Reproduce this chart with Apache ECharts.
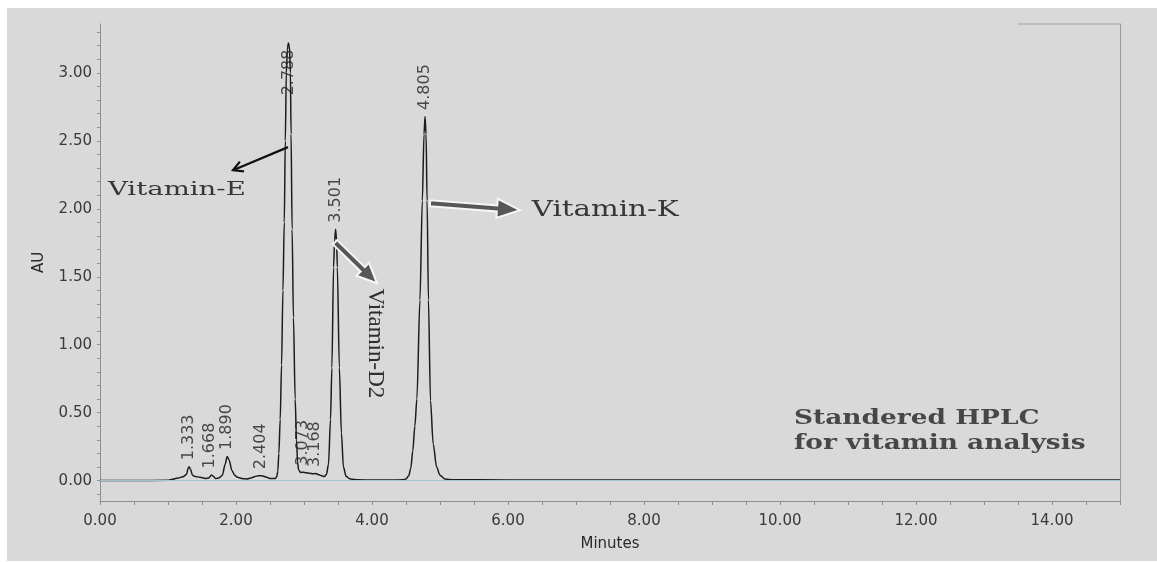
<!DOCTYPE html>
<html><head><meta charset="utf-8">
<script src="https://cdn.jsdelivr.net/npm/echarts@6/dist/echarts.min.js"></script>
<style>
html,body{margin:0;padding:0;background:#fff;}
#wrap{position:relative;width:1157px;height:562px;overflow:hidden;}
#bg{position:absolute;left:7px;top:8px;width:1150px;height:553px;background:#d9d9d9;}
#chart{position:absolute;left:0;top:0;width:1157px;height:562px;}
</style></head><body>
<div id="wrap"><div id="bg"></div><div id="chart"></div></div>
<script>
// ---- chromatogram trace (minutes, AU) ----
const traceTime = [0.00,0.50,1.00,1.05,1.15,1.22,1.27,1.30,1.31,1.33,1.36,1.40,1.47,1.55,1.60,1.64,1.67,1.70,1.75,1.80,1.84,1.87,1.90,1.94,1.98,2.02,2.10,2.16,2.22,2.28,2.33,2.38,2.43,2.50,2.58,
  2.60,2.615,2.63,2.65,2.67,2.69,2.71,2.725,2.74,2.755,2.77,2.785,2.80,2.81,2.825,2.845,2.87,2.89,2.905,2.92,2.95,2.99,3.03,3.08,3.13,3.17,3.21,3.26,3.30,
  3.33,3.36,3.39,3.41,3.435,3.45,3.465,3.48,3.49,3.52,3.55,3.58,3.62,3.68,3.80,4.00,4.30,4.45,4.50,4.54,4.57,4.60,4.63,4.66,4.705,4.74,4.765,4.78,4.795,4.81,4.83,4.86,4.90,4.95,5.00,5.07,5.20,6.00,8.00,10.00,12.00,15.00];
const traceAU = [0.000,0.000,0.002,0.008,0.020,0.028,0.045,0.095,0.102,0.085,0.040,0.030,0.025,0.016,0.020,0.042,0.030,0.015,0.020,0.040,0.120,0.178,0.150,0.075,0.040,0.024,0.014,0.012,0.020,0.030,0.036,0.036,0.028,0.015,0.016,
  0.030,0.070,0.200,0.450,0.850,1.400,1.900,2.500,3.000,3.170,3.220,3.200,3.000,2.550,1.850,1.200,0.600,0.300,0.140,0.080,0.060,0.062,0.058,0.055,0.050,0.052,0.045,0.035,0.030,
  0.045,0.120,0.450,0.830,1.570,1.770,1.850,1.760,1.570,0.830,0.350,0.100,0.030,0.012,0.006,0.004,0.004,0.006,0.012,0.035,0.090,0.220,0.400,0.600,1.330,2.060,2.550,2.680,2.550,2.060,1.330,0.590,0.270,0.100,0.040,0.012,0.006,0.005,0.005,0.005,0.005,0.005];

// ---- peak retention-time labels ----
const peakLabels = ['1.333','1.668','1.890','2.404','2.788','3.073','3.168','3.501','4.805'];
const peakTime   = [1.31, 1.61, 1.87, 2.36, 2.77, 2.99, 3.16, 3.465, 4.78];
const peakAU     = [0.102, 0.042, 0.178, 0.036, 3.22, 0.062, 0.052, 1.85, 2.68];

// ---- axis ticks / labels ----
const xTickLabels = [0,2,4,6,8,10,12,14];
const xTicks = [0,0.5,1,1.5,2,2.5,3,3.5,4,4.5,5,5.5,6,6.5,7,7.5,8,8.5,9,9.5,10,10.5,11,11.5,12,12.5,13,13.5,14,14.5,15];
const yTickLabels = [0,0.5,1,1.5,2,2.5,3];
const yTicks = [-0.1,0,0.1,0.2,0.3,0.4,0.5,0.6,0.7,0.8,0.9,1,1.1,1.2,1.3,1.4,1.5,1.6,1.7,1.8,1.9,2,2.1,2.2,2.3,2.4,2.5,2.6,2.7,2.8,2.9,3,3.1,3.2,3.3];

// ---- annotations ----
const annotationTexts = ['Vitamin-E','Vitamin-K','Vitamin-D2','Standered HPLC','for vitamin analysis'];

const chart = echarts.init(document.getElementById('chart'), null, {renderer:'canvas'});
const axisColor = '#8e8e96';
const labelColor = '#3a3a3a';

const traceData = traceTime.map((t,i)=>[t, traceAU[i]]);
const peakData = peakTime.map((t,i)=>{
  const d = {value:[t, peakAU[i]]};
  if (peakLabels[i] === '2.788') d.label = {position:'bottom', align:'right', distance:6};
  return d;
});

chart.setOption({
  animation:false,
  backgroundColor:'transparent',
  grid:{left:100, right:37, top:24, bottom:61},
  xAxis:{
    type:'value', min:0, max:15,
    axisLine:{show:true, onZero:false, lineStyle:{color:axisColor, width:1}},
    axisTick:{show:true, customValues:xTicks, length:4, lineStyle:{color:axisColor}},
    axisLabel:{customValues:xTickLabels, formatter:v=>v.toFixed(2), fontFamily:'DejaVu Sans', fontSize:15, color:labelColor, margin:13},
    splitLine:{show:false},
    name:'Minutes', nameLocation:'middle', nameGap:36,
    nameTextStyle:{fontFamily:'DejaVu Sans', fontSize:15, color:'#2a2a2a'}
  },
  yAxis:[{
    type:'value', min:-0.15, max:3.36,
    axisLine:{show:true, onZero:false, lineStyle:{color:axisColor, width:1}},
    axisTick:{show:true, customValues:yTicks, length:3, lineStyle:{color:axisColor}},
    axisLabel:{customValues:yTickLabels, formatter:v=>v.toFixed(2), fontFamily:'DejaVu Sans', fontSize:15, color:labelColor, margin:8},
    splitLine:{show:false},
    name:'AU', nameLocation:'middle', nameGap:53,
    nameTextStyle:{fontFamily:'DejaVu Sans', fontSize:15, color:'#2a2a2a'}
  },{
    type:'value', min:-0.15, max:3.36, position:'right',
    axisLine:{show:true, onZero:false, lineStyle:{color:'#9a9a9a', width:1}},
    axisTick:{show:false}, axisLabel:{show:false}, splitLine:{show:false}
  }],
  series:[{
    type:'line', data:traceData, symbol:'none', smooth:0.3, smoothMonotone:'x',
    lineStyle:{color:'#1c1c1c', width:1.5},
    markLine:{silent:true, symbol:'none', label:{show:false},
      lineStyle:{color:'#9fc4cc', width:1, type:'solid'}, data:[{yAxis:0}]},
    z:3
  },{
    type:'scatter', data:peakData, symbolSize:1, itemStyle:{color:'transparent'},
    label:{show:true, formatter:p=>peakLabels[p.dataIndex], rotate:90, position:'top',
      align:'left', verticalAlign:'middle', distance:6,
      fontFamily:'DejaVu Sans', fontSize:16, color:'#222'},
    z:4
  }]
});

function px(x,y){ return chart.convertToPixel({xAxisIndex:0, yAxisIndex:0}, [x,y]); }
function blockArrow(p0,p1,w,hw,hl){
  const dx=p1[0]-p0[0], dy=p1[1]-p0[1], L=Math.hypot(dx,dy);
  const ux=dx/L, uy=dy/L, nx=-uy, ny=ux;
  const bx=p1[0]-ux*hl, by=p1[1]-uy*hl;
  return [[p0[0]+nx*w,p0[1]+ny*w],[bx+nx*w,by+ny*w],[bx+nx*hw,by+ny*hw],[p1[0],p1[1]],
          [bx-nx*hw,by-ny*hw],[bx-nx*w,by-ny*w],[p0[0]-nx*w,p0[1]-ny*w]];
}
function lineArrowHead(p0,p1,len,ang){
  const a=Math.atan2(p0[1]-p1[1], p0[0]-p1[0]);
  return [[p1[0]+len*Math.cos(a+ang), p1[1]+len*Math.sin(a+ang)], [p1[0],p1[1]],
          [p1[0]+len*Math.cos(a-ang), p1[1]+len*Math.sin(a-ang)]];
}

const eFrom = px(2.765,2.454), eTo = px(1.956,2.284);
const kFrom = px(4.853,2.041), kTo = px(6.176,1.99);
const dFrom = px(3.456,1.754), dTo = px(4.074,1.452);
const tE = px(1.13,2.137), tK = px(7.43,1.99), tD = px(4.044,1.01);
const tS1 = px(10.206,0.457), tS2 = px(10.206,0.273);
const topA = px(13.5,3.36), topB = px(15,3.36);

chart.setOption({graphic:[
  {type:'line', shape:{x1:topA[0], y1:topA[1], x2:topB[0], y2:topB[1]}, style:{stroke:'#a49aac', lineWidth:1}, z:5},
  {type:'polyline', shape:{points:[eFrom,eTo]}, style:{stroke:'#111', lineWidth:2.2, fill:null}, z:10},
  {type:'polyline', shape:{points:lineArrowHead(eFrom,eTo,11,0.5)}, style:{stroke:'#111', lineWidth:2.2, fill:null}, z:10},
  {type:'polygon', shape:{points:blockArrow(kFrom,kTo,3,9.5,23)}, style:{fill:'#575757', stroke:'#f6f6f6', lineWidth:2}, z:10},
  {type:'polygon', shape:{points:blockArrow(dFrom,dTo,3,9,20)}, style:{fill:'#575757', stroke:'#f6f6f6', lineWidth:2}, z:10},
  {type:'text', x:tE[0], y:tE[1], scaleX:1.45, style:{text:annotationTexts[0], font:'19px "DejaVu Serif"', fill:'#363636', align:'center', verticalAlign:'middle'}, z:10},
  {type:'text', x:tK[0], y:tK[1], scaleX:1.33, style:{text:annotationTexts[1], font:'22px "DejaVu Serif"', fill:'#363636', align:'center', verticalAlign:'middle'}, z:10},
  {type:'text', x:tD[0], y:tD[1], rotation:-Math.PI/2, style:{text:annotationTexts[2], font:'23px "Liberation Serif"', fill:'#2e2e2e', align:'center', verticalAlign:'middle'}, z:10},
  {type:'text', x:tS1[0], y:tS1[1], scaleX:1.32, style:{text:annotationTexts[3], font:'bold 20px "DejaVu Serif"', fill:'#474747', align:'left', verticalAlign:'middle'}, z:10},
  {type:'text', x:tS2[0], y:tS2[1], scaleX:1.32, style:{text:annotationTexts[4], font:'bold 20px "DejaVu Serif"', fill:'#474747', align:'left', verticalAlign:'middle'}, z:10}
]});
</script>
</body></html>
